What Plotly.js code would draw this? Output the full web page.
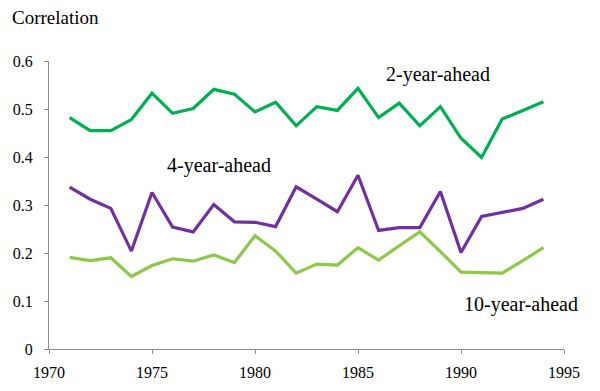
<!DOCTYPE html>
<html>
<head>
<meta charset="utf-8">
<script src="https://cdn.plot.ly/plotly-3.0.1.min.js"></script>
<style>html,body{margin:0;padding:0;background:#fff;}#chart{width:600px;height:391px;}</style>
</head>
<body>
<div id="chart"></div>
<script>
const years = [1971,1972,1973,1974,1975,1976,1977,1978,1979,1980,1981,1982,1983,1984,1985,1986,1987,1988,1989,1990,1991,1992,1993,1994];
const twoYear = [0.482,0.455,0.455,0.478,0.533,0.491,0.501,0.541,0.531,0.494,0.514,0.465,0.505,0.497,0.543,0.482,0.512,0.465,0.505,0.439,0.399,0.479,0.497,0.515];
const fourYear = [0.337,0.312,0.293,0.204,0.326,0.254,0.244,0.301,0.265,0.264,0.255,0.338,0.312,0.286,0.362,0.247,0.253,0.253,0.328,0.201,0.276,0.284,0.293,0.312];
const tenYear = [0.191,0.184,0.190,0.151,0.174,0.188,0.183,0.196,0.180,0.236,0.204,0.158,0.177,0.175,0.211,0.185,0.215,0.244,0.203,0.160,0.159,0.158,0.184,0.211];
const xTicks = [1970,1975,1980,1985,1990,1995];
const yTicks = [0,0.1,0.2,0.3,0.4,0.5,0.6];
const yTickText = ['0','0.1','0.2','0.3','0.4','0.5','0.6'];

const font = '"Liberation Serif", "Times New Roman", serif';
const traces = [
  {x: years, y: twoYear, mode: 'lines', line: {color: '#00b050', width: 3.2}, name: '2-year-ahead'},
  {x: years, y: fourYear, mode: 'lines', line: {color: '#7030a0', width: 3.2}, name: '4-year-ahead'},
  {x: years, y: tenYear, mode: 'lines', line: {color: '#8fc74a', width: 3.2}, name: '10-year-ahead'}
];
const layout = {
  width: 600, height: 391,
  margin: {l: 49, r: 36, t: 61, b: 42},
  paper_bgcolor: '#fff', plot_bgcolor: '#fff',
  showlegend: false,
  font: {family: font, size: 16, color: '#000'},
  xaxis: {
    range: [1970, 1995], tickvals: xTicks, ticktext: xTicks.map(String),
    showgrid: false, zeroline: false, showline: true, linecolor: '#8c8c8c', linewidth: 1,
    ticks: 'outside', ticklen: 4, tickcolor: '#8c8c8c', tickfont: {family: font, size: 16, color: '#000'},
    ticklabelstandoff: 5
  },
  yaxis: {
    range: [0, 0.6], tickvals: yTicks, ticktext: yTickText,
    showgrid: false, zeroline: false, showline: true, linecolor: '#8c8c8c', linewidth: 1,
    ticks: 'outside', ticklen: 4, tickcolor: '#8c8c8c', tickfont: {family: font, size: 16, color: '#000'},
    ticklabelstandoff: 8
  },
  annotations: [
    {text: 'Correlation', xref: 'paper', yref: 'paper', x: -39/515, y: (349-18)/288, xanchor: 'left', yanchor: 'middle', showarrow: false, font: {family: font, size: 19, color: '#000'}},
    {text: '2-year-ahead', xref: 'x', yref: 'y', x: 1988.9, y: (349-74)/480, xanchor: 'center', yanchor: 'middle', showarrow: false, font: {family: font, size: 20, color: '#000'}},
    {text: '4-year-ahead', xref: 'x', yref: 'y', x: 1978.25, y: (349-165)/480, xanchor: 'center', yanchor: 'middle', showarrow: false, font: {family: font, size: 20, color: '#000'}},
    {text: '10-year-ahead', xref: 'x', yref: 'y', x: 1992.9, y: (349-304)/480, xanchor: 'center', yanchor: 'middle', showarrow: false, font: {family: font, size: 20, color: '#000'}}
  ]
};
Plotly.newPlot('chart', traces, layout, {displayModeBar: false, staticPlot: true});
</script>
</body>
</html>
